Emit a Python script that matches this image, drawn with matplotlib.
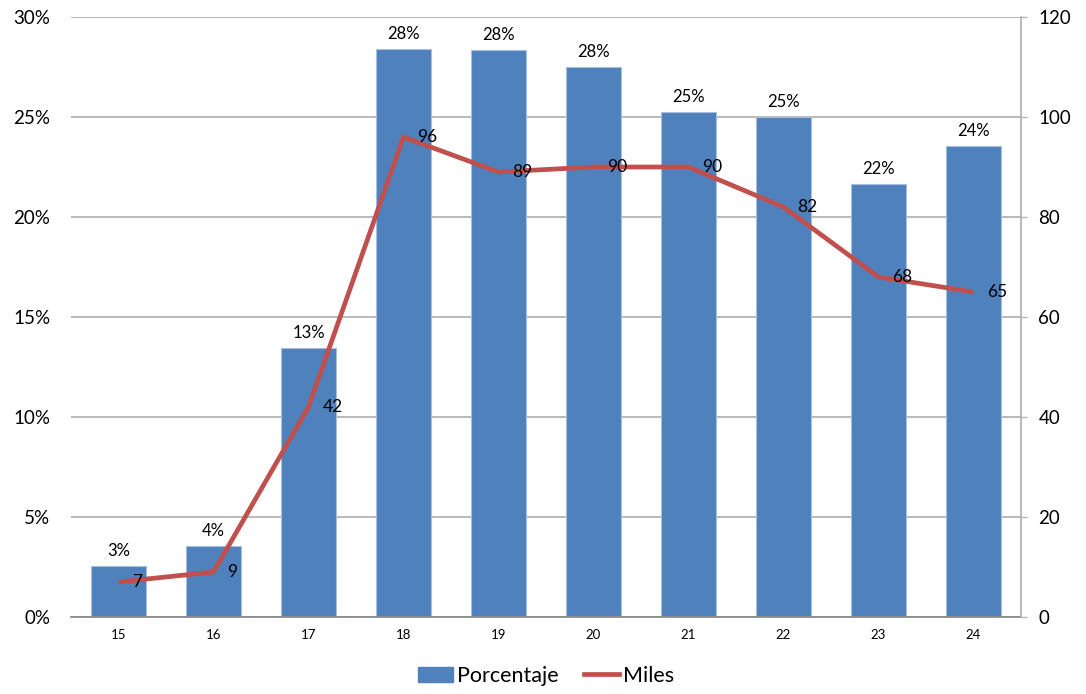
import matplotlib
matplotlib.use("Agg")
import matplotlib.pyplot as plt
from matplotlib.ticker import FuncFormatter, MultipleLocator
from matplotlib.patches import Patch
from matplotlib.lines import Line2D

plt.rcParams['font.family'] = ['Lato', 'DejaVu Sans']

# Data
edades = ["15", "16", "17", "18", "19", "20", "21", "22", "23", "24"]
porcentaje = [2.57, 3.55, 13.43, 28.38, 28.33, 27.52, 25.23, 25.00, 21.63, 23.55]
miles = [7, 9, 42, 96, 89, 90, 90, 82, 68, 65]

bar_color = "#4F81BD"
line_color = "#C0504D"
grid_color = "#B3B3B3"

fig = plt.figure(figsize=(10.86, 6.94), dpi=100)
ax = fig.add_axes([0.0654, 0.111, 0.8747, 0.8645])
ax2 = ax.twinx()

x = list(range(len(edades)))

bars = ax.bar(x, porcentaje, width=0.57, color=bar_color,
              edgecolor="#A7BEDD", linewidth=0.8, zorder=2)

ax.set_xlim(-0.5, len(edades) - 0.5)
ax.set_ylim(0, 30)
ax.yaxis.set_major_locator(MultipleLocator(5))
ax.yaxis.set_major_formatter(FuncFormatter(lambda v, p: f"{v:.0f}%"))
ax.grid(axis="y", color=grid_color, linewidth=1.3, zorder=0)
ax.set_axisbelow(True)

ax.set_xticks(x)
ax.set_xticklabels(edades, fontsize=9.5)
ax.tick_params(axis="x", length=0, pad=9)
ax.tick_params(axis="y", length=0, pad=15, labelsize=13.5)

for s in ["top", "left", "right"]:
    ax.spines[s].set_visible(False)
ax.spines["bottom"].set_color("#8C8C8C")
ax.spines["bottom"].set_linewidth(1.3)
ax.spines["bottom"].set_zorder(3)

# Percent labels above bars
for xi, v in zip(x, porcentaje):
    ax.annotate(f"{v:.0f}%", (xi, v), xytext=(0, 5), textcoords="offset points",
                ha="center", va="bottom", fontsize=12, color="#000000")

# Line series on the secondary axis
ax2.plot(x, miles, color=line_color, linewidth=3.4, solid_capstyle="butt",
         solid_joinstyle="miter", zorder=4)
ax2.set_ylim(0, 120)
ax2.yaxis.set_major_locator(MultipleLocator(20))
ax2.tick_params(axis="y", length=4.5, width=1, color=grid_color, pad=8,
                labelsize=13.5)
for s in ["top", "left", "bottom"]:
    ax2.spines[s].set_visible(False)
ax2.spines["right"].set_color(grid_color)
ax2.spines["right"].set_linewidth(1.3)

for xi, v in zip(x, miles):
    ax2.annotate(f"{v:.0f}", (xi, v), xytext=(10, 0), textcoords="offset points",
                 ha="left", va="center", fontsize=12.5, color="#000000", zorder=5)

handles = [Patch(facecolor=bar_color, edgecolor=bar_color),
           Line2D([0], [0], color=line_color, linewidth=3.4)]
fig.legend(handles, ["Porcentaje", "Miles"], loc="center",
           bbox_to_anchor=(0.503, 0.026), ncol=2, frameon=False, fontsize=15.5,
           handlelength=1.6, handleheight=0.7, handletextpad=0.2,
           columnspacing=1.2)

fig.savefig("out.png", dpi=100)
